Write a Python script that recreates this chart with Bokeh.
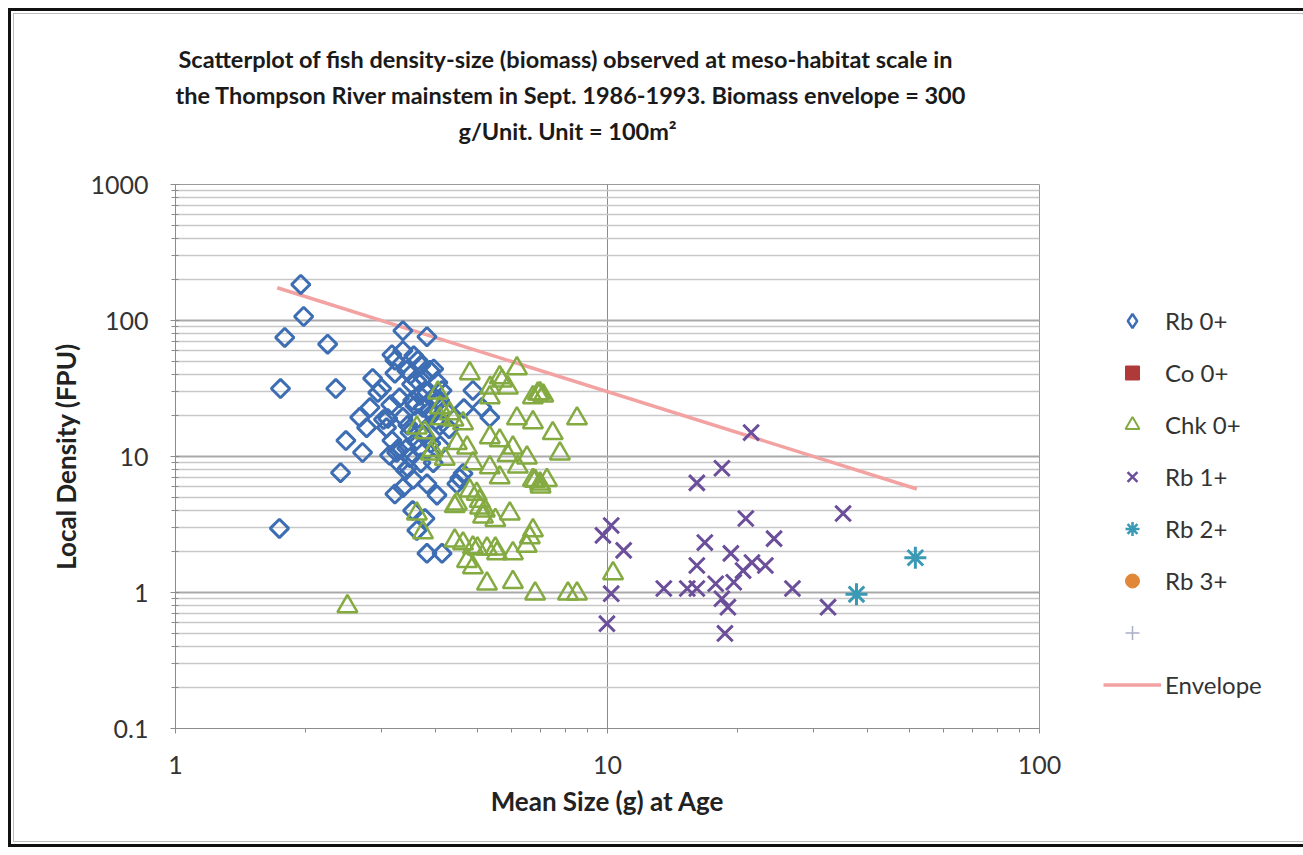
from bokeh.plotting import figure
from bokeh.models import Title, Legend, LegendItem, FixedTicker, CustomJSTickFormatter, Range1d
from bokeh.embed import file_html
from bokeh.resources import INLINE

NAN = float("nan")

# ---------------- data ----------------
rb0_x = [1.95, 1.98, 1.79, 2.25, 1.75, 2.35, 1.74, 3.36, 3.82, 2.41,
         2.48, 3.17, 3.36, 3.22, 3.64, 3.43, 3.88, 3.62, 2.86, 3.00,
         4.14, 2.82, 2.67, 3.10, 3.08, 2.77, 3.36, 3.54, 3.74, 3.92,
         2.71, 3.17, 3.25, 3.43, 3.45, 3.68, 3.82, 4.03, 3.22, 3.36,
         3.54, 3.62, 3.82, 4.14, 4.55, 4.48, 4.63, 3.49, 3.41, 3.52,
         3.68, 3.82, 3.96, 3.49, 3.76, 4.00, 4.09, 4.09, 3.88, 3.58,
         3.64, 3.13, 3.27, 3.03, 2.94, 4.65, 3.78, 3.56, 3.22, 4.88,
         5.12, 5.34, 3.50, 3.70, 3.30, 3.15, 3.45, 3.60, 3.90, 4.20,
         4.30, 4.05, 3.75, 3.95, 3.70, 3.95, 3.30, 3.55, 4.10]
rb0_y = [184, 107, 75, 67, 31.6, 31.6, 2.96, 84, 76, 7.6,
         13.1, 56, 60, 41, 51, 43, 43, 36, 37.5, 31.6,
         30.6, 22.9, 19.4, 19.0, 16.3, 16.3, 19.4, 25.8, 22.9, 20.7,
         10.7, 13.1, 10.7, 11.5, 8.3, 11.6, 6.3, 5.2, 5.3, 5.9,
         4.0, 2.86, 1.94, 1.94, 6.9, 6.3, 7.5, 9.8, 7.9, 34,
         28.1, 29.5, 44, 15.0, 14.3, 18.4, 16.9, 25.8, 21.8, 23.7,
         19.0, 10.2, 11.3, 18.7, 29.5, 22.5, 3.5, 55, 51, 30.6,
         22.9, 19.4, 40, 47, 27, 24, 17, 13, 12.5, 22,
         16, 35, 38, 27, 9.0, 9.0, 8.8, 6.8, 12]

co0_x = []
co0_y = []

chk_x = [4.80, 6.17, 5.63, 5.88, 6.98, 6.72, 5.34, 4.05, 8.50, 6.72,
         6.17, 7.47, 7.76, 6.51, 6.04, 5.63, 5.34, 4.63, 4.31, 4.09,
         3.62, 3.94, 4.48, 4.73, 4.88, 5.34, 5.63, 6.72, 6.98, 7.24,
         4.48, 4.98, 5.07, 5.15, 5.94, 6.72, 6.61, 4.63, 4.88, 5.55,
         6.04, 4.88, 3.62, 3.74, 5.26, 6.04, 10.3, 6.80, 8.10, 8.50,
         2.50, 5.87, 6.20, 5.50, 5.20, 4.80, 5.00, 5.26, 5.50, 6.50,
         4.43, 4.73, 4.20, 3.90, 4.40, 4.10, 3.78, 5.35, 6.90, 7.10,
         5.70, 7.00, 6.80, 5.06, 4.43]
chk_y = [40.8, 44.4, 38.1, 32.1, 29.1, 27.2, 27.2, 29.5, 19.0, 17.8,
         19.0, 14.8, 10.5, 9.8, 11.6, 13.1, 13.8, 17.5, 20.7, 22.9,
         16.3, 11.1, 12.5, 11.6, 8.9, 8.3, 7.0, 6.7, 6.3, 6.7,
         4.5, 5.3, 4.2, 3.6, 3.8, 2.86, 2.54, 2.29, 2.14, 1.94,
         1.94, 1.53, 3.8, 2.76, 1.16, 1.19, 1.38, 0.98, 0.98, 0.98,
         0.79, 10.2, 8.4, 3.4, 4.0, 5.6, 2.1, 2.1, 2.1, 2.2,
         2.4, 1.7, 9.6, 10.5, 18.6, 19.0, 15.0, 32, 29, 28,
         36, 6.0, 6.6, 4.7, 4.3]

rb1_x = [21.5, 18.4, 16.1, 10.2, 9.76, 10.9, 20.9, 35.1, 24.3, 16.8,
         19.3, 16.1, 21.6, 23.2, 20.6, 19.6, 17.8, 13.5, 15.3, 16.1,
         26.8, 10.2, 18.4, 19.0, 32.4, 9.97, 18.7]
rb1_y = [15.0, 8.2, 6.4, 3.11, 2.63, 2.04, 3.5, 3.81, 2.49, 2.33,
         1.94, 1.58, 1.66, 1.58, 1.45, 1.19, 1.16, 1.07, 1.07, 1.07,
         1.07, 0.98, 0.90, 0.78, 0.78, 0.59, 0.50]

rb2_x = [51.6, 37.7]
rb2_y = [1.80, 0.97]

rb3_x = []
rb3_y = []

env_x = [1.72, 52.0]
env_y = [174.0, 5.77]

x_ticks = [1, 10, 100]
y_ticks = [0.1, 1, 10, 100, 1000]

series_names = ["Rb 0+", "Co 0+", "Chk 0+", "Rb 1+", "Rb 2+", "Rb 3+", "", "Envelope"]

title_lines = [
    "Scatterplot of fish density-size (biomass) observed at meso-habitat scale in",
    "the Thompson River mainstem in Sept. 1986-1993.  Biomass envelope = 300",
    "g/Unit.  Unit = 100m\u00b2",
]
x_label = "Mean Size (g) at Age"
y_label = "Local Density (FPU)"

# ---------------- styling ----------------
FONT = "Lato"
C_RB0 = "#3d6db3"
C_CO0 = "#b03a3a"
C_CHK = "#84aa42"
C_RB1 = "#6b4f9b"
C_RB2 = "#3a9ab5"
C_RB3 = "#e08838"
C_PLUS = "#a9afc6"
C_ENV = "#f3a2a2"

p = figure(x_axis_type="log", y_axis_type="log",
           x_range=Range1d(1, 100), y_range=Range1d(0.1, 1000),
           frame_width=864, frame_height=544,
           min_border_left=175, min_border_right=264,
           min_border_top=184, min_border_bottom=127,
           output_backend="svg", toolbar_location=None,
           background_fill_color="white", border_fill_color=None)
p.styles = {"outline": "3px solid #111111", "outline-offset": "-11px",
            "background-color": "white",
            "box-shadow": "inset 0 0 0 13px #ffffff, inset 0 0 0 14px #bdbdbd"}
p.outline_line_color = "#9a9a9a"
p.outline_line_width = 1

# ticks / grids
y_minor = [k * 10.0 ** e for e in range(-1, 3) for k in range(2, 10)]
x_minor = [k * 10.0 ** e for e in range(0, 2) for k in range(2, 10)]
p.yaxis.ticker = FixedTicker(ticks=y_ticks, minor_ticks=y_minor)
p.xaxis.ticker = FixedTicker(ticks=x_ticks, minor_ticks=x_minor)
fmt = "return tick.toString()"
p.xaxis.formatter = CustomJSTickFormatter(code=fmt)
p.yaxis.formatter = CustomJSTickFormatter(code=fmt)

p.ygrid.grid_line_color = "#a9a9a9"
p.ygrid.grid_line_width = 2
p.ygrid.minor_grid_line_color = "#c8c8c8"
p.ygrid.minor_grid_line_width = 1.6
p.xgrid.grid_line_color = "#8c8c8c"
p.xgrid.grid_line_width = 1
p.xgrid.minor_grid_line_color = None

for ax in (p.xaxis[0], p.yaxis[0]):
    ax.axis_line_color = "#8c8c8c"
    ax.major_tick_line_color = "#8c8c8c"
    ax.minor_tick_line_color = "#8c8c8c"
    ax.major_label_text_font = FONT
    ax.major_label_text_font_size = "25px"
    ax.major_label_text_color = "#333333"
    ax.axis_label_text_font = FONT
    ax.axis_label_text_font_style = "bold"
    ax.axis_label_text_font_size = "26px"
    ax.axis_label_text_color = "#222222"

p.xaxis.major_tick_in = 0
p.xaxis.major_tick_out = 5
p.xaxis.minor_tick_in = 0
p.xaxis.minor_tick_out = 4
p.xaxis.major_label_standoff = 22
p.xaxis.axis_label = x_label
p.xaxis.axis_label_standoff = 8

p.yaxis.major_tick_in = 4
p.yaxis.major_tick_out = 5
p.yaxis.minor_tick_in = 3
p.yaxis.minor_tick_out = 4
p.yaxis.major_label_standoff = 22
p.yaxis.axis_label = y_label
p.yaxis.axis_label_standoff = 5

# glyphs
r_env = p.line(env_x, env_y, line_color=C_ENV, line_width=3.5)
r_rb0 = p.scatter(rb0_x, rb0_y, marker="square", angle=0.785398, size=13,
                  fill_color=None, line_color=C_RB0, line_width=3)
r_co0 = p.scatter(co0_x, co0_y, marker="square", size=15,
                  fill_color=C_CO0, line_color=C_CO0)
r_chk = p.scatter(chk_x, chk_y, marker="triangle", size=20,
                  fill_color=None, line_color=C_CHK, line_width=2.5)
r_rb1 = p.scatter(rb1_x, rb1_y, marker="x", size=22,
                  line_color=C_RB1, line_width=3)
r_rb2 = p.scatter(rb2_x, rb2_y, marker="asterisk", size=22,
                  line_color=C_RB2, line_width=3)
r_rb3 = p.scatter(rb3_x, rb3_y, marker="circle", size=15,
                  fill_color=C_RB3, line_color=C_RB3)

# legend swatches (never visible in the plot area: NaN position)
lg_rb0 = p.scatter([NAN], [NAN], marker="diamond", line_color=C_RB0,
                   fill_color=None, line_width=2.5)
lg_co0 = p.scatter([NAN], [NAN], marker="square", line_color=C_CO0, fill_color=C_CO0)
lg_chk = p.scatter([NAN], [NAN], marker="triangle", line_color=C_CHK,
                   fill_color=None, line_width=2)
lg_rb1 = p.scatter([NAN], [NAN], marker="x", line_color=C_RB1, line_width=2.5)
lg_rb2 = p.scatter([NAN], [NAN], marker="asterisk", line_color=C_RB2, line_width=2.5)
lg_rb3 = p.scatter([NAN], [NAN], marker="circle", line_color=C_RB3, fill_color=C_RB3)
lg_plus = p.scatter([NAN], [NAN], marker="cross", line_color=C_PLUS, line_width=1.5)

renderers = [lg_rb0, lg_co0, lg_chk, lg_rb1, lg_rb2, lg_rb3, lg_plus, r_env]
items = [LegendItem(label=n, renderers=[r]) for n, r in zip(series_names, renderers)]
legend = Legend(items=items, location=(64, 26),
                glyph_width=58, glyph_height=35, label_height=35,
                spacing=17, label_standoff=4, padding=0, margin=0,
                border_line_color=None, background_fill_alpha=0,
                label_text_font=FONT, label_text_font_size="24px",
                label_text_color="#333333")
p.add_layout(legend, "right")

# title: spacer nearest the frame, then lines 3, 2, 1 stacked upward
p.add_layout(Title(text=" ", text_font_size="10px", standoff=24), "above")
offsets = [3, 0, 283]
for txt, off in reversed(list(zip(title_lines, offsets))):
    p.add_layout(Title(text=txt, align="left", offset=off, standoff=6,
                       text_font=FONT, text_font_style="bold",
                       text_font_size="23.5px", text_color="#1a1a1a"), "above")

open("out.html", "w").write(file_html(p, INLINE))
